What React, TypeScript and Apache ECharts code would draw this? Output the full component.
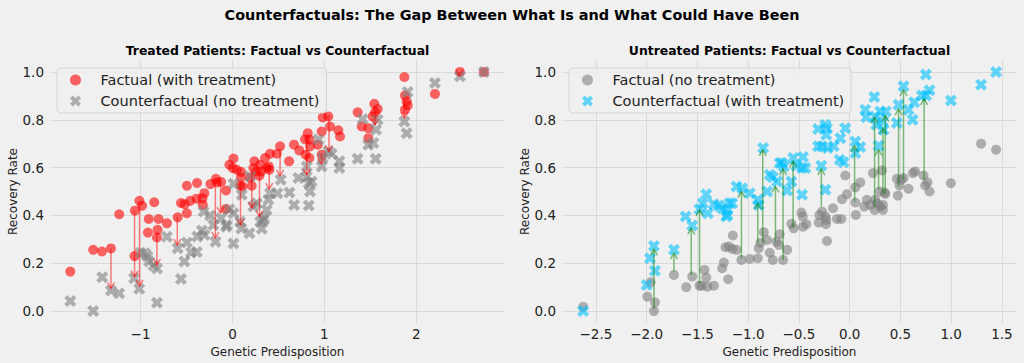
import React, { useEffect, useRef } from "react";
import * as echarts from "echarts";

// ---------- data ----------
const TREATED_FACTUAL: [number, number][] = [
  [-1.764, 0.165], [-1.515, 0.256], [-1.42, 0.249], [-1.322, 0.262], [-1.232, 0.405],
  [-1.065, 0.23], [-1.062, 0.42], [-1.012, 0.461], [-0.984, 0.44], [-0.911, 0.385],
  [-0.92, 0.328], [-0.851, 0.455], [-0.804, 0.385], [-0.815, 0.34], [-0.822, 0.308],
  [-0.713, 0.367], [-0.596, 0.392], [-0.496, 0.524], [-0.496, 0.409], [-0.56, 0.452],
  [-0.52, 0.447], [-0.46, 0.461], [-0.385, 0.536], [-0.39, 0.47], [-0.326, 0.472],
  [-0.306, 0.493], [-0.322, 0.444], [-0.24, 0.531], [-0.18, 0.553], [-0.17, 0.538],
  [-0.124, 0.54], [-0.07, 0.504], [-0.072, 0.427], [-0.033, 0.612], [0.011, 0.638],
  [0.004, 0.598], [0.047, 0.591], [0.094, 0.582], [0.092, 0.559], [0.085, 0.525],
  [0.109, 0.521], [0.192, 0.559], [0.228, 0.598], [0.21, 0.524], [0.239, 0.626],
  [0.257, 0.584], [0.301, 0.612], [0.312, 0.584], [0.293, 0.566], [0.355, 0.64],
  [0.373, 0.598], [0.395, 0.605], [0.409, 0.658], [0.402, 0.591], [0.482, 0.658],
  [0.518, 0.689], [0.616, 0.626], [0.67, 0.696], [0.728, 0.672], [0.79, 0.719],
  [0.819, 0.744], [0.837, 0.717], [0.797, 0.654], [0.837, 0.64], [0.844, 0.689],
  [0.928, 0.696], [0.971, 0.751], [0.982, 0.81], [1.043, 0.814], [1.062, 0.772],
  [0.971, 0.654], [1.152, 0.756], [1.17, 0.73], [1.362, 0.831], [1.406, 0.772],
  [1.478, 0.765], [1.478, 0.723], [1.543, 0.867], [1.525, 0.814], [1.551, 0.831],
  [1.58, 0.845], [1.87, 0.979], [1.877, 0.901], [1.895, 0.877], [1.906, 0.86],
  [1.877, 0.842], [2.203, 0.908], [2.475, 1.0], [2.736, 1.0],
];

const TREATED_COUNTER: [number, number][] = [
  [-1.764, 0.042], [-1.515, 0.0], [-1.416, 0.141], [-1.322, 0.086], [-1.232, 0.074],
  [-1.07, 0.137], [-1.014, 0.093], [-1.0, 0.244], [-0.949, 0.242], [-0.924, 0.228],
  [-0.905, 0.207], [-0.859, 0.19], [-0.82, 0.178], [-0.822, 0.035], [-0.714, 0.311],
  [-0.596, 0.263], [-0.56, 0.134], [-0.523, 0.207], [-0.496, 0.287], [-0.45, 0.245],
  [-0.388, 0.247], [-0.383, 0.312], [-0.332, 0.337], [-0.304, 0.318], [-0.315, 0.416],
  [-0.243, 0.4], [-0.207, 0.36], [-0.184, 0.29], [-0.125, 0.388], [-0.062, 0.36],
  [-0.068, 0.353], [-0.033, 0.426], [0.011, 0.283], [0.011, 0.532], [0.011, 0.409],
  [0.083, 0.374], [0.096, 0.345], [0.101, 0.486], [0.185, 0.325], [0.192, 0.563],
  [0.228, 0.437], [0.264, 0.451], [0.301, 0.374], [0.319, 0.344], [0.337, 0.38],
  [0.344, 0.388], [0.373, 0.423], [0.391, 0.465], [0.409, 0.493], [0.489, 0.493],
  [0.525, 0.549], [0.62, 0.496], [0.67, 0.444], [0.717, 0.556], [0.808, 0.605],
  [0.808, 0.563], [0.83, 0.535], [0.844, 0.5], [0.83, 0.441], [0.862, 0.542],
  [0.935, 0.717], [0.971, 0.605], [0.982, 0.64], [1.043, 0.668], [1.08, 0.658],
  [1.163, 0.626], [1.163, 0.598], [1.362, 0.637], [1.417, 0.803], [1.478, 0.696],
  [1.533, 0.703], [1.558, 0.637], [1.58, 0.8], [1.562, 0.758], [1.87, 0.793],
  [1.895, 0.744], [1.906, 0.916], [2.203, 0.954], [2.475, 0.982], [2.736, 1.0],
];

// [x, from (factual), to (counterfactual)]
const TREATED_ARROWS: [number, number, number][] = [
  [-1.322, 0.262, 0.095], [-1.065, 0.42, 0.144], [-1.011, 0.44, 0.105],
  [-0.822, 0.326, 0.193], [-0.6, 0.395, 0.276], [-0.186, 0.548, 0.305],
  [-0.13, 0.538, 0.41], [0.088, 0.54, 0.36], [0.21, 0.584, 0.43],
  [0.294, 0.584, 0.395], [0.4, 0.605, 0.51], [0.518, 0.68, 0.565],
  [0.808, 0.723, 0.57], [0.968, 0.66, 0.615], [1.05, 0.82, 0.667],
  [1.551, 0.835, 0.779], [1.87, 0.884, 0.807], [2.467, 1.0, 0.985],
];

const UNTREATED_FACTUAL: [number, number][] = [
  [-2.626, 0.018], [-1.993, 0.06], [-1.961, 0.12], [-1.918, 0.036], [-1.928, 0.0],
  [-1.731, 0.151], [-1.61, 0.1], [-1.551, 0.144], [-1.479, 0.106], [-1.459, 0.106],
  [-1.43, 0.172], [-1.413, 0.14], [-1.403, 0.102], [-1.338, 0.106], [-1.256, 0.179],
  [-1.239, 0.203], [-1.197, 0.133], [-1.223, 0.267], [-1.19, 0.27], [-1.151, 0.316],
  [-1.157, 0.26], [-1.115, 0.256], [-1.066, 0.214], [-0.984, 0.218], [-0.905, 0.221],
  [-0.895, 0.263], [-0.879, 0.286], [-0.846, 0.33], [-0.813, 0.297], [-0.787, 0.244],
  [-0.757, 0.214], [-0.721, 0.29], [-0.689, 0.321], [-0.698, 0.277], [-0.656, 0.214],
  [-0.616, 0.256], [-0.574, 0.365], [-0.551, 0.346], [-0.475, 0.412], [-0.462, 0.395],
  [-0.459, 0.353], [-0.426, 0.363], [-0.305, 0.37], [-0.298, 0.402], [-0.272, 0.416],
  [-0.239, 0.395], [-0.233, 0.363], [-0.23, 0.381], [-0.223, 0.293], [-0.164, 0.43],
  [-0.125, 0.385], [-0.082, 0.385], [-0.075, 0.468], [-0.043, 0.567], [-0.026, 0.489],
  [0.056, 0.517], [0.056, 0.454], [0.062, 0.402], [0.105, 0.538], [0.144, 0.437],
  [0.17, 0.465], [0.203, 0.444], [0.23, 0.577], [0.246, 0.423], [0.252, 0.465],
  [0.269, 0.451], [0.302, 0.437], [0.318, 0.588], [0.295, 0.5], [0.328, 0.423],
  [0.328, 0.444], [0.344, 0.496], [0.351, 0.49], [0.466, 0.553], [0.475, 0.483],
  [0.492, 0.525], [0.508, 0.549], [0.531, 0.556], [0.58, 0.511], [0.623, 0.577],
  [0.646, 0.584], [0.728, 0.567], [0.744, 0.525], [0.767, 0.538], [0.787, 0.5],
  [0.997, 0.535], [1.295, 0.7], [1.443, 0.675],
];

const UNTREATED_COUNTER: [number, number][] = [
  [-2.626, 0.0], [-2.0, 0.109], [-1.967, 0.221], [-1.928, 0.272], [-1.918, 0.169],
  [-1.731, 0.256], [-1.616, 0.395], [-1.551, 0.358], [-1.479, 0.426], [-1.446, 0.451],
  [-1.413, 0.489], [-1.397, 0.409], [-1.338, 0.447], [-1.289, 0.441], [-1.256, 0.43],
  [-1.216, 0.395], [-1.207, 0.423], [-1.184, 0.451], [-1.157, 0.451], [-1.203, 0.402],
  [-1.115, 0.521], [-1.059, 0.514], [-0.984, 0.493], [-0.905, 0.465], [-0.895, 0.444],
  [-0.852, 0.682], [-0.813, 0.5], [-0.787, 0.57], [-0.757, 0.56], [-0.715, 0.542],
  [-0.689, 0.619], [-0.666, 0.619], [-0.649, 0.605], [-0.616, 0.504], [-0.574, 0.542],
  [-0.557, 0.64], [-0.525, 0.608], [-0.459, 0.644], [-0.469, 0.598], [-0.436, 0.598],
  [-0.469, 0.486], [-0.311, 0.761], [-0.311, 0.689], [-0.272, 0.689], [-0.279, 0.608],
  [-0.239, 0.507], [-0.239, 0.779], [-0.23, 0.737], [-0.223, 0.765], [-0.216, 0.682],
  [-0.157, 0.689], [-0.092, 0.723], [-0.098, 0.633], [-0.043, 0.765], [-0.059, 0.622],
  [0.056, 0.709], [0.056, 0.661], [0.105, 0.686], [0.154, 0.842], [0.164, 0.811],
  [0.243, 0.895], [0.252, 0.814], [0.262, 0.779], [0.285, 0.691], [0.302, 0.835],
  [0.328, 0.793], [0.334, 0.758], [0.357, 0.835], [0.466, 0.786], [0.482, 0.863],
  [0.531, 0.94], [0.58, 0.842], [0.62, 0.8], [0.636, 0.873], [0.711, 0.901],
  [0.751, 0.989], [0.754, 0.901], [0.787, 0.923], [0.997, 0.881], [1.295, 0.947],
  [1.443, 1.0],
];

const UNTREATED_ARROWS: [number, number, number][] = [
  [-1.928, 0.007, 0.258], [-1.731, 0.165, 0.242], [-1.561, 0.151, 0.346],
  [-1.479, 0.116, 0.423], [-1.066, 0.221, 0.5], [-0.905, 0.286, 0.451],
  [-0.856, 0.286, 0.674], [-0.731, 0.29, 0.521], [-0.656, 0.214, 0.594],
  [-0.557, 0.353, 0.626], [-0.279, 0.437, 0.594], [0.049, 0.458, 0.691],
  [0.246, 0.437, 0.811], [0.285, 0.507, 0.675], [0.328, 0.493, 0.765],
  [0.351, 0.49, 0.817], [0.482, 0.521, 0.845], [0.531, 0.549, 0.925],
  [0.734, 0.549, 0.887],
];

const LEFT_X_STEP = 1;
const RIGHT_X_STEP = 0.5;
const Y_STEP = 0.2;

// ---------- styling ----------
const FONT = "DejaVu Sans";
const BG = "#f0f0f0";
const X_MARKER = "path://M75,0L50,25L25,0L0,25L25,50L0,75L25,100L50,75L75,100L100,75L75,50L100,25Z";

const isMultiple = (v: number, step: number) => Math.abs(v / step - Math.round(v / step)) < 1e-6;
const fmt = (step: number, digits: number) => (v: number) => {
  if (!isMultiple(v, step)) return "";
  const s = Math.abs(v) < 1e-9 ? (0).toFixed(digits) : v.toFixed(digits);
  return s.replace("-", "\u2212");
};

function arrowSeries(data: [number, number, number][], xi: number, color: string) {
  return {
    type: "custom",
    xAxisIndex: xi,
    yAxisIndex: xi,
    z: 5,
    silent: true,
    encode: { x: 0, y: [1, 2] },
    data,
    renderItem: (_params: any, api: any) => {
      const x = api.value(0);
      const p0 = api.coord([x, api.value(1)]);
      const p1 = api.coord([x, api.value(2)]);
      const dir = p1[1] > p0[1] ? 1 : -1;
      const hl = 6;
      const hw = 3.5;
      return {
        type: "group",
        children: [
          {
            type: "line",
            shape: { x1: p0[0], y1: p0[1], x2: p1[0], y2: p1[1] },
            style: { stroke: color, lineWidth: 1.5 },
          },
          {
            type: "polyline",
            shape: {
              points: [
                [p1[0] - hw, p1[1] - dir * hl],
                [p1[0], p1[1]],
                [p1[0] + hw, p1[1] - dir * hl],
              ],
            },
            style: { stroke: color, fill: "none", lineWidth: 1.5 },
          },
        ],
      };
    },
  };
}

function xAxis(gridIndex: number, min: number, max: number, step: number, digits: number) {
  return {
    type: "value",
    gridIndex,
    min,
    max,
    minInterval: step,
    maxInterval: step,
    name: "Genetic Predisposition",
    nameLocation: "middle",
    nameGap: 20,
    nameTextStyle: { fontSize: 12, fontFamily: FONT, color: "#222" },
    axisLine: { show: false },
    axisTick: { show: false },
    axisLabel: {
      fontSize: 13.5,
      fontFamily: FONT,
      color: "#222",
      margin: 4,
      formatter: fmt(step, digits),
      showMinLabel: false,
      showMaxLabel: false,
    },
    splitLine: { show: true, showMinLine: false, showMaxLine: false, lineStyle: { color: "#dadada", width: 1 } },
  };
}

function yAxis(gridIndex: number) {
  return {
    type: "value",
    gridIndex,
    min: -0.05,
    max: 1.05,
    minInterval: Y_STEP,
    maxInterval: Y_STEP,
    name: "Recovery Rate",
    nameLocation: "middle",
    nameGap: 31,
    nameTextStyle: { fontSize: 12, fontFamily: FONT, color: "#222" },
    axisLine: { show: false },
    axisTick: { show: false },
    axisLabel: {
      fontSize: 13.5,
      fontFamily: FONT,
      color: "#222",
      margin: 6,
      formatter: fmt(Y_STEP, 1),
      showMinLabel: false,
      showMaxLabel: false,
    },
    splitLine: { show: true, showMinLine: false, showMaxLine: false, lineStyle: { color: "#dadada", width: 1 } },
  };
}

function legend(left: number, names: string[]) {
  return {
    orient: "vertical",
    left,
    top: 68,
    itemWidth: 40,
    itemHeight: 11,
    itemGap: 5,
    padding: [4, 7, 4, 13],
    backgroundColor: "rgba(240,240,240,0.8)",
    borderColor: "#d4d4d4",
    borderWidth: 1,
    borderRadius: 4,
    selectedMode: false,
    textStyle: { fontSize: 14.5, fontFamily: FONT, color: "#222", lineHeight: 16 },
    data: names,
  };
}

function titleText(text: string, x: number, y: number, size: number) {
  return {
    type: "text",
    x,
    y,
    silent: true,
    style: {
      text,
      fontSize: size,
      fontWeight: "bold",
      fontFamily: FONT,
      fill: "#000",
      align: "center",
      verticalAlign: "middle",
      textAlign: "center",
      textVerticalAlign: "middle",
    },
  };
}

export default function App() {
  const ref = useRef<HTMLDivElement>(null);

  useEffect(() => {
    if (!ref.current) return;
    const chart = echarts.init(ref.current, undefined, { renderer: "svg" });
    chart.setOption({
      animation: false,
      backgroundColor: BG,
      textStyle: { fontFamily: FONT },
      graphic: [
        titleText("Counterfactuals: The Gap Between What Is and What Could Have Been", 512, 15, 14.4),
        titleText("Treated Patients: Factual vs Counterfactual", 277.5, 50, 12.4),
        titleText("Untreated Patients: Factual vs Counterfactual", 789.5, 50, 12.4),
      ],
      grid: [
        { left: 50, right: 519, top: 60, bottom: 40 },
        { left: 562, right: 7, top: 60, bottom: 40 },
      ],
      xAxis: [
        xAxis(0, -1.985, 2.965, LEFT_X_STEP, 0),
        xAxis(1, -2.834, 1.649, RIGHT_X_STEP, 1),
      ],
      yAxis: [yAxis(0), yAxis(1)],
      legend: [
        legend(57, ["Factual (with treatment)", "Counterfactual (no treatment)"]),
        legend(569, ["Factual (no treatment)", "Counterfactual (with treatment)"]),
      ],
      series: [
        {
          name: "Factual (with treatment)",
          type: "scatter",
          xAxisIndex: 0,
          yAxisIndex: 0,
          symbol: "circle",
          symbolSize: 10,
          itemStyle: { color: "#ff0000", opacity: 0.6 },
          data: TREATED_FACTUAL,
          z: 2,
        },
        {
          name: "Counterfactual (no treatment)",
          type: "scatter",
          xAxisIndex: 0,
          yAxisIndex: 0,
          symbol: X_MARKER,
          symbolSize: 12,
          itemStyle: { color: "#808080", opacity: 0.6 },
          data: TREATED_COUNTER,
          z: 3,
        },
        arrowSeries(TREATED_ARROWS, 0, "rgba(255,0,0,0.5)"),
        {
          name: "Factual (no treatment)",
          type: "scatter",
          xAxisIndex: 1,
          yAxisIndex: 1,
          symbol: "circle",
          symbolSize: 10,
          itemStyle: { color: "#808080", opacity: 0.6 },
          data: UNTREATED_FACTUAL,
          z: 2,
        },
        {
          name: "Counterfactual (with treatment)",
          type: "scatter",
          xAxisIndex: 1,
          yAxisIndex: 1,
          symbol: X_MARKER,
          symbolSize: 12,
          itemStyle: { color: "#00bfff", opacity: 0.6 },
          data: UNTREATED_COUNTER,
          z: 3,
        },
        arrowSeries(UNTREATED_ARROWS, 1, "rgba(0,128,0,0.5)"),
      ],
    });
    return () => chart.dispose();
  }, []);

  return (
    <div
      ref={ref}
      style={{ position: "fixed", left: 0, top: 0, width: 1024, height: 363, background: BG }}
    />
  );
}
